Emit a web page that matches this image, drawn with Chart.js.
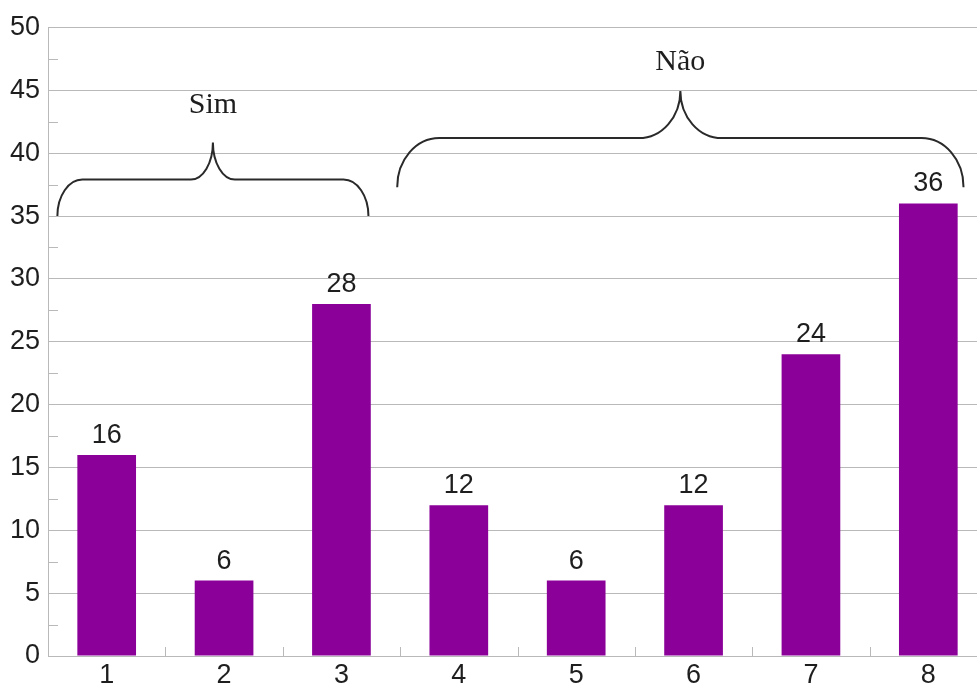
<!DOCTYPE html>
<html>
<head>
<meta charset="utf-8">
<script src="https://cdn.jsdelivr.net/npm/chart.js@4"></script>
<style>
  html, body { margin: 0; padding: 0; overflow: hidden; background: #fff; }
  #wrap { width: 990px; height: 687px; position: relative; }
</style>
</head>
<body>
<div id="wrap"><canvas id="c"></canvas></div>
<script>
// Categories and counts
const categories = ['1', '2', '3', '4', '5', '6', '7', '8'];
const counts = [16, 6, 28, 12, 6, 12, 24, 36];

// Y axis range and tick step
const yMin = 0;
const yMax = 50;
const yStep = 5;

// Group captions drawn over the braces
const groupLabels = ['Sim', 'Não'];

const SANS = '"Liberation Sans Narrow", "Liberation Sans", Arial, sans-serif';
const SERIF = '"Liberation Serif", "Times New Roman", serif';
const GRID = '#b9b9b9';
const INK = '#1e1e1e';
const BAR = '#8b0099';

// Brace geometry in axis units (x: category index, y: value); radii in px
const braceGeom = [
  { from: -0.42, to: 2.23, yEnd: 35, yFlat: 37.9, yTip: 40.85, rEnd: 25, rMid: 22, yText: 43.2 },
  { from: 2.475, to: 7.30, yEnd: 37.3, yFlat: 41.2, yTip: 44.95, rEnd: 42, rMid: 41.5, yText: 46.6 }
];

function drawBrace(ctx, xl, xr, yEnd, yFlat, yTip, rEnd, rMid) {
  const k = 0.5523;
  const xm = (xl + xr) / 2;
  const hE = yEnd - yFlat, hM = yFlat - yTip;
  ctx.beginPath();
  ctx.moveTo(xl, yEnd);
  ctx.bezierCurveTo(xl, yEnd - k * hE, xl + rEnd - k * rEnd, yFlat, xl + rEnd, yFlat);
  ctx.lineTo(xm - rMid, yFlat);
  ctx.bezierCurveTo(xm - rMid + k * rMid, yFlat, xm, yTip + k * hM, xm, yTip);
  ctx.bezierCurveTo(xm, yTip + k * hM, xm + rMid - k * rMid, yFlat, xm + rMid, yFlat);
  ctx.lineTo(xr - rEnd, yFlat);
  ctx.bezierCurveTo(xr - rEnd + k * rEnd, yFlat, xr, yEnd - k * hE, xr, yEnd);
  ctx.stroke();
}

// Short inner tick marks: half-steps on Y, category boundaries on X
const minorTicks = {
  id: 'minorTicks',
  beforeDatasetsDraw(chart) {
    const { ctx, scales: { x, y }, chartArea: a } = chart;
    ctx.save();
    ctx.strokeStyle = GRID;
    ctx.lineWidth = 1;
    ctx.beginPath();
    for (let v = yMin + yStep / 2; v < yMax; v += yStep) {
      const py = Math.round(y.getPixelForValue(v)) + 0.5;
      ctx.moveTo(a.left, py);
      ctx.lineTo(a.left + 10, py);
    }
    for (let i = 0; i < categories.length - 1; i++) {
      const px = Math.round(x.getPixelForValue(i + 0.5)) + 0.5;
      ctx.moveTo(px, a.bottom);
      ctx.lineTo(px, a.bottom - 9);
    }
    ctx.stroke();
    ctx.restore();
  }
};

// Value captions above each bar
const valueLabels = {
  id: 'valueLabels',
  afterDatasetsDraw(chart) {
    const { ctx } = chart;
    const meta = chart.getDatasetMeta(0);
    ctx.save();
    ctx.font = '27px ' + SANS;
    ctx.fillStyle = INK;
    ctx.textAlign = 'center';
    ctx.textBaseline = 'alphabetic';
    meta.data.forEach((bar, i) => {
      ctx.fillText(String(counts[i]), bar.x, bar.y - 12);
    });
    ctx.restore();
  }
};

// Curly braces grouping the bars, with their captions
const groupBraces = {
  id: 'groupBraces',
  afterDraw(chart) {
    const { ctx, scales: { x, y } } = chart;
    ctx.save();
    ctx.strokeStyle = '#2a2a2a';
    ctx.lineWidth = 2;
    ctx.font = '30px ' + SERIF;
    ctx.fillStyle = INK;
    ctx.textAlign = 'center';
    ctx.textBaseline = 'alphabetic';
    braceGeom.forEach((g, i) => {
      const xl = x.getPixelForValue(g.from);
      const xr = x.getPixelForValue(g.to);
      drawBrace(ctx, xl, xr,
        y.getPixelForValue(g.yEnd), y.getPixelForValue(g.yFlat), y.getPixelForValue(g.yTip),
        g.rEnd, g.rMid);
      ctx.fillText(groupLabels[i], (xl + xr) / 2, y.getPixelForValue(g.yText));
    });
    ctx.restore();
  }
};

new Chart(document.getElementById('c'), {
  type: 'bar',
  data: {
    labels: categories,
    datasets: [{
      data: counts,
      backgroundColor: BAR,
      borderWidth: 0,
      barPercentage: 0.5,
      categoryPercentage: 1.0
    }]
  },
  options: {
    responsive: true,
    maintainAspectRatio: false,
    animation: false,
    events: [],
    layout: { padding: { top: 27.5, right: 3, left: 0, bottom: 0 } },
    plugins: { legend: { display: false }, tooltip: { enabled: false } },
    scales: {
      x: {
        offset: true,
        grid: { display: false, drawTicks: false },
        border: { display: true, color: GRID, width: 1 },
        ticks: { color: INK, font: { family: SANS, size: 27 }, padding: 3 },
        afterFit(scale) { scale.height = 31; }
      },
      y: {
        min: yMin,
        max: yMax,
        ticks: { stepSize: yStep, color: INK, font: { family: SANS, size: 27 }, padding: 8 },
        grid: { color: GRID, lineWidth: 1, drawTicks: false },
        border: { display: true, color: GRID, width: 1 },
        afterFit(scale) { scale.width = 48; }
      }
    }
  },
  plugins: [minorTicks, valueLabels, groupBraces]
});
</script>
</body>
</html>
